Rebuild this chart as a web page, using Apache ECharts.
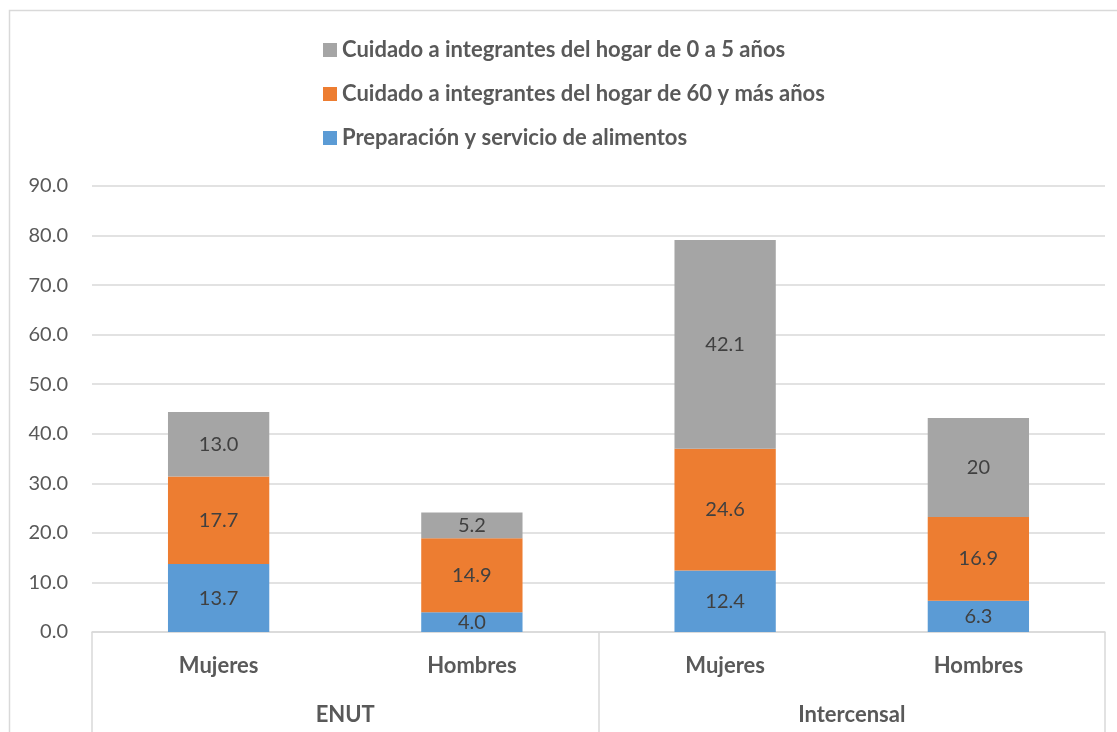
<!DOCTYPE html>
<html>
<head>
<meta charset="utf-8">
<script src="https://cdn.jsdelivr.net/npm/echarts@6/dist/echarts.min.js"></script>
<style>
  html, body { margin: 0; padding: 0; background: #fff; }
  #chart { width: 1117px; height: 732px; }
</style>
</head>
<body>
<div id="chart"></div>
<script>
// datos
const sexos = ['Mujeres', 'Hombres', 'Mujeres', 'Hombres'];
const fuentes = ['ENUT', 'Intercensal'];
const alimentos = [13.7, 4.0, 12.4, 6.3];
const cuidado60 = [17.7, 14.9, 24.6, 16.9];
const cuidado05 = [13.0, 5.2, 42.1, 20];
const decimales05 = [1, 1, 1, 0]; // el último aparece como "20"
const yTicks = [0, 10, 20, 30, 40, 50, 60, 70, 80, 90];

const nombres = [
  'Cuidado a integrantes del hogar de 0 a 5 años',
  'Cuidado a integrantes del hogar de 60 y más años',
  'Preparación y servicio de alimentos'
];
const colores = {
  'Cuidado a integrantes del hogar de 0 a 5 años': '#A5A5A5',
  'Cuidado a integrantes del hogar de 60 y más años': '#ED7D31',
  'Preparación y servicio de alimentos': '#5B9BD5'
};

const fuente = 'Lato, "Open Sans", sans-serif';
const gris = '#D9D9D9';

let myChart = echarts.init(document.getElementById('chart'));

function serie(name, data, formatter) {
  return {
    name,
    type: 'bar',
    stack: 'total',
    barWidth: '40%',
    xAxisIndex: 0,
    itemStyle: { color: colores[name] },
    label: {
      show: true,
      position: 'inside',
      color: '#404040',
      fontFamily: fuente,
      fontSize: 20,
      formatter
    },
    data
  };
}

let option = {
  animation: false,
  graphic: [{
    type: 'rect',
    shape: { x: 9.5, y: 10.5, width: 1130, height: 760 },
    style: { fill: 'none', stroke: gris, lineWidth: 1.5 },
    silent: true
  }],
  legend: {
    data: nombres,
    orient: 'vertical',
    left: 318,
    top: 34,
    itemWidth: 14,
    itemHeight: 14,
    itemGap: 22,
    icon: 'rect',
    textStyle: {
      fontFamily: fuente,
      fontWeight: 'bold',
      fontSize: 22,
      color: '#595959'
    }
  },
  grid: {
    left: 92,
    right: 12,
    top: 186,
    bottom: 100
  },
  xAxis: [{
    type: 'category',
    data: sexos,
    position: 'bottom',
    axisLine: { show: true, lineStyle: { color: gris, width: 1.5 } },
    axisTick: { show: false },
    axisLabel: {
      margin: 23,
      fontFamily: fuente,
      fontWeight: 'bold',
      fontSize: 22,
      color: '#595959'
    }
  }, {
    type: 'category',
    data: fuentes,
    position: 'bottom',
    axisLine: { show: false },
    axisTick: { show: true, length: 110, lineStyle: { color: gris, width: 1.5 } },
    axisLabel: {
      margin: 72,
      fontFamily: fuente,
      fontWeight: 'bold',
      fontSize: 22,
      color: '#595959'
    }
  }],
  yAxis: {
    type: 'value',
    min: yTicks[0],
    max: yTicks[yTicks.length - 1],
    interval: 10,
    axisLine: { show: false },
    axisTick: { show: false },
    splitLine: { lineStyle: { color: gris, width: 1.5 } },
    axisLabel: {
      margin: 24,
      formatter: v => v.toFixed(1),
      fontFamily: fuente,
      fontSize: 20,
      color: '#595959'
    }
  },
  series: [
    serie(nombres[2], alimentos, p => p.value.toFixed(1)),
    serie(nombres[1], cuidado60, p => p.value.toFixed(1)),
    serie(nombres[0], cuidado05, p => p.value.toFixed(decimales05[p.dataIndex]))
  ]
};
myChart.setOption(option);
</script>
</body>
</html>
